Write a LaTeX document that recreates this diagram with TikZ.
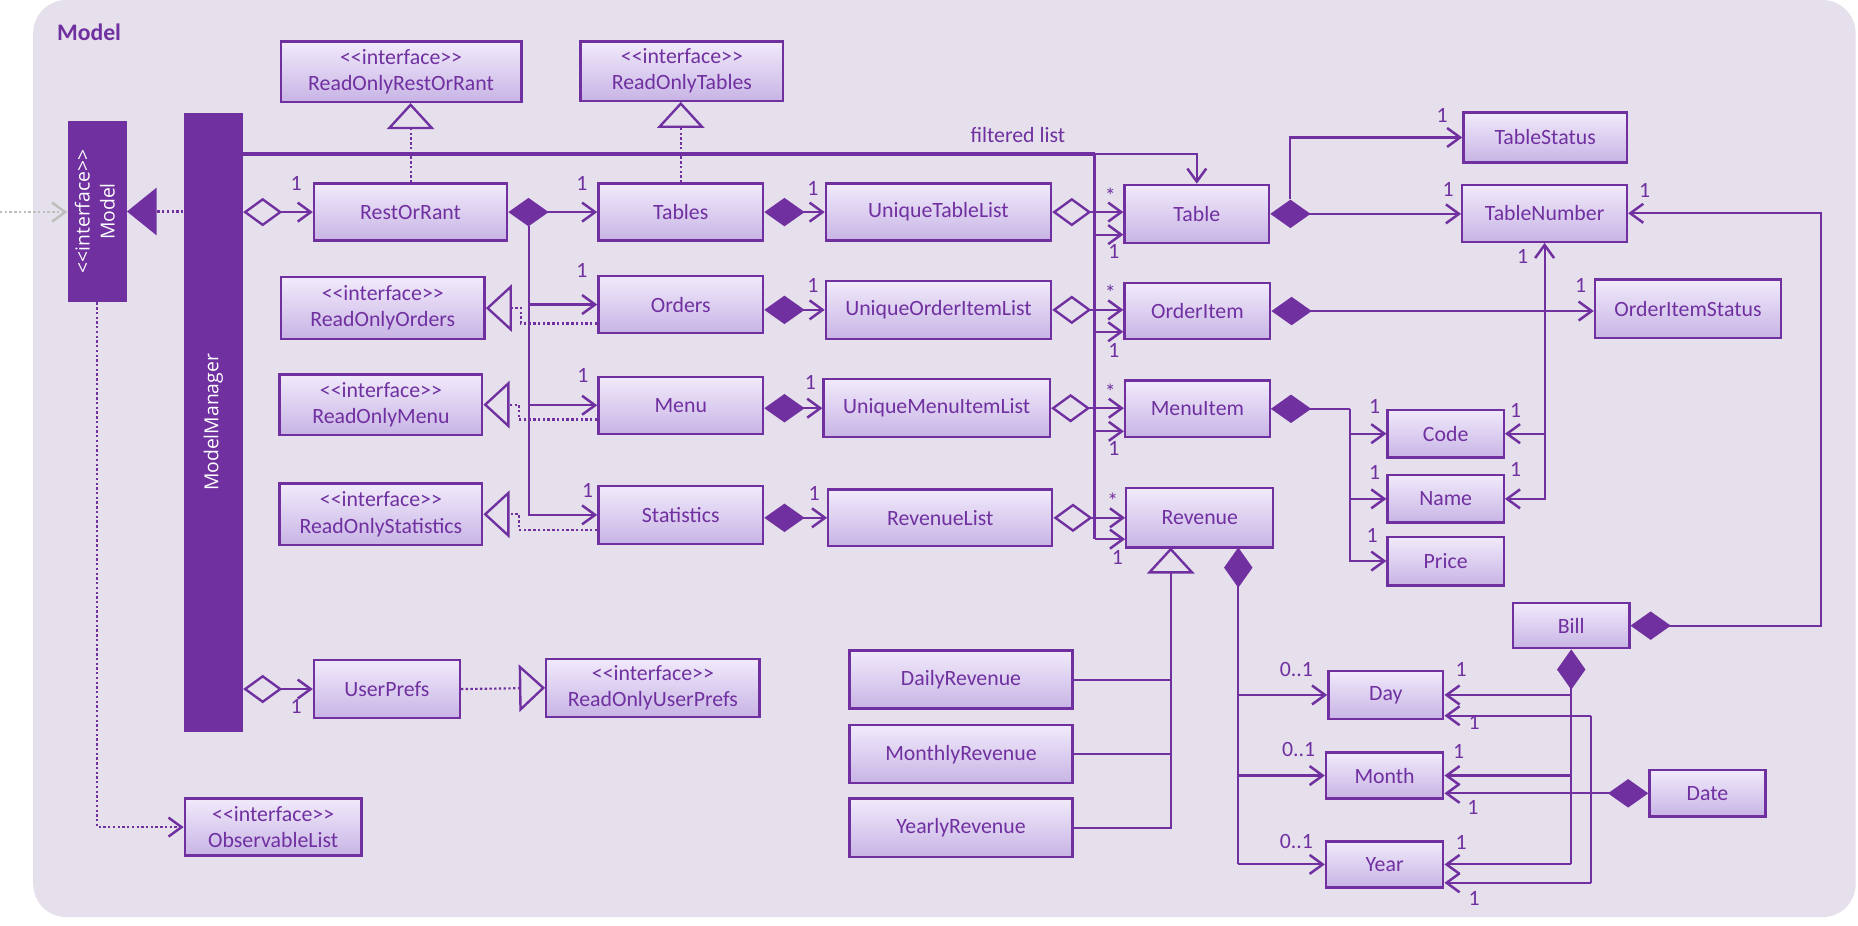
\documentclass[tikz,border=0pt]{standalone}
\usepackage{fontspec}
\usepackage{graphicx}
\setmainfont{Carlito}
\newfontfamily\uifont{Open Sans}
\usetikzlibrary{arrows.meta}
\definecolor{uml_purple}{RGB}{112, 48, 160}
\definecolor{uml_bg}{RGB}{229, 224, 236}
\definecolor{uml_top}{RGB}{241, 234, 251}
\definecolor{uml_bot}{RGB}{200, 180, 229}
\definecolor{uml_grey}{RGB}{191, 191, 191}
\newcommand{\iface}{<\kern0pt<interface>\kern0pt>}
\tikzstyle{cn}=[rectangle,draw=uml_purple,top color=uml_top,bottom color=uml_bot,
  line width=2pt,inner sep=0pt,text=uml_purple,align=center,
  font=\fontsize{18.4}{22}\selectfont]
\tikzstyle{dk}=[rectangle,fill=uml_purple,inner sep=0pt,text=white,
  font=\uifont\fontsize{16.3}{21}\selectfont]
\tikzstyle{lbl}=[inner sep=0pt,anchor=base,text=uml_purple,
  font=\fontsize{18.4}{22}\selectfont]
\tikzstyle{link}=[uml_purple,line width=1.8pt,>={Straight Barb[length=11pt,width=16pt,line width=2.1pt]}]
\tikzstyle{dots}=[link,dash pattern=on 2pt off 2pt]
\tikzset{fdia/.tip={Diamond[length=34pt,width=24pt]},
  odia/.tip={Diamond[length=33pt,width=24pt,fill=uml_bg,line width=2pt]},
  otri/.tip={Triangle[length=22pt,width=40pt,fill=uml_bg,line width=2pt]}}

\begin{document}
\begin{tikzpicture}[x=1pt,y=-1pt]
  \useasboundingbox (0,0) rectangle (1568,781);
  \fill [uml_bg, rounded corners=28pt] (28,0) rectangle (1566,774);
  \node [anchor=base west, inner sep=0pt, text=uml_purple,
    font=\bfseries\fontsize{20}{24}\selectfont] (title) at (48,34) {Model};

  % facade
  \node [style=dk, minimum width=50pt, minimum height=153pt] (model) at (82,178.5)
    {\rotatebox{90}{\begin{tabular}{@{}c@{}}\iface\\Model\end{tabular}}};
  \node [style=dk, minimum width=50pt, minimum height=523pt] (mm) at (180,356.5)
    {\rotatebox{90}{ModelManager}};

  % interfaces
  \node [style=cn, minimum width=203pt, minimum height=51pt] (rorestorrant) at (338.5,60.5) {\iface\\ReadOnlyRestOrRant};
  \node [style=cn, minimum width=171pt, minimum height=50pt] (rotables) at (575.5,60) {\iface\\ReadOnlyTables};
  \node [style=cn, minimum width=172pt, minimum height=52pt] (roorders) at (323,260) {\iface\\ReadOnlyOrders};
  \node [style=cn, minimum width=171pt, minimum height=51pt] (romenu) at (321.5,341.5) {\iface\\ReadOnlyMenu};
  \node [style=cn, minimum width=171pt, minimum height=52pt] (rostatistics) at (321.5,434) {\iface\\ReadOnlyStatistics};
  \node [style=cn, minimum width=180pt, minimum height=49pt] (rouserprefs) at (551,580.5) {\iface\\ReadOnlyUserPrefs};
  \node [style=cn, minimum width=149pt, minimum height=48pt] (obslist) at (230.5,698) {\iface\\ObservableList};

  % classes
  \node [style=cn, minimum width=163pt, minimum height=48pt] (restorrant) at (346.5,179) {RestOrRant};
  \node [style=cn, minimum width=139pt, minimum height=48pt] (tables) at (574.5,179) {Tables};
  \node [style=cn, minimum width=139pt, minimum height=48pt] (orders) at (574.5,257) {Orders};
  \node [style=cn, minimum width=139pt, minimum height=48pt] (menu) at (574.5,342) {Menu};
  \node [style=cn, minimum width=139pt, minimum height=49pt] (statistics) at (574.5,434.5) {Statistics};
  \node [style=cn, minimum width=190pt, minimum height=48pt] (uniquetablelist) at (792,179) {UniqueTableList};
  \node [style=cn, minimum width=190pt, minimum height=49pt] (uniqueorderitemlist) at (792,261.5) {UniqueOrderItemList};
  \node [style=cn, minimum width=191pt, minimum height=49pt] (uniquemenuitemlist) at (790.5,344.5) {UniqueMenuItemList};
  \node [style=cn, minimum width=189pt, minimum height=48pt] (revenuelist) at (793.5,437) {RevenueList};
  \node [style=cn, minimum width=122pt, minimum height=49pt] (table) at (1010,180.5) {Table};
  \node [style=cn, minimum width=123pt, minimum height=47pt] (orderitem) at (1010.5,262.5) {OrderItem};
  \node [style=cn, minimum width=122pt, minimum height=48pt] (menuitem) at (1010.5,345) {MenuItem};
  \node [style=cn, minimum width=124pt, minimum height=50pt] (revenue) at (1012.5,437) {Revenue};
  \node [style=cn, minimum width=138pt, minimum height=42pt] (tablestatus) at (1304,116) {TableStatus};
  \node [style=cn, minimum width=139pt, minimum height=48pt] (tablenumber) at (1303.5,180) {TableNumber};
  \node [style=cn, minimum width=157pt, minimum height=49pt] (orderitemstatus) at (1424.5,260.5) {OrderItemStatus};
  \node [style=cn, minimum width=98pt, minimum height=40pt] (code) at (1220,366) {Code};
  \node [style=cn, minimum width=98pt, minimum height=40pt] (name) at (1220,421) {Name};
  \node [style=cn, minimum width=98pt, minimum height=41pt] (price) at (1220,473.5) {Price};
  \node [style=cn, minimum width=98pt, minimum height=38pt] (bill) at (1326,528) {Bill};
  \node [style=cn, minimum width=97pt, minimum height=41pt] (day) at (1169.5,586.5) {Day};
  \node [style=cn, minimum width=99pt, minimum height=39pt] (month) at (1168.5,654.5) {Month};
  \node [style=cn, minimum width=99pt, minimum height=39pt] (year) at (1168.5,729.5) {Year};
  \node [style=cn, minimum width=98pt, minimum height=39pt] (date) at (1441,669.5) {Date};
  \node [style=cn, minimum width=188pt, minimum height=49pt] (dailyrevenue) at (811,573.5) {DailyRevenue};
  \node [style=cn, minimum width=188pt, minimum height=49pt] (monthlyrevenue) at (811,636.5) {MonthlyRevenue};
  \node [style=cn, minimum width=188pt, minimum height=49pt] (yearlyrevenue) at (811,698.5) {YearlyRevenue};
  \node [style=cn, minimum width=123pt, minimum height=49pt] (userprefs) at (326.5,581.5) {UserPrefs};

  % junction points
  \coordinate (ext) at (0,179);
  \coordinate (rj) at (446.5,191);
  \coordinate (flt) at (924,130);
  \coordinate (ftb) at (924,198);
  \coordinate (foi) at (924,280);
  \coordinate (fmi) at (924,364);
  \coordinate (frv) at (924,455);
  \coordinate (tj) at (1089,168);
  \coordinate (mj) at (1139,345);
  \coordinate (bj) at (1537,528);
  \coordinate (gj) at (988,462);
  \coordinate (rvj) at (1045,462);
  \coordinate (dd) at (1343,604);
  \coordinate (dy) at (1343,745);

  % model and manager
  \draw [dots, draw=uml_grey, ->] (ext) -- (ext -| model.west);
  \draw [dots, -{Triangle[length=25pt,width=40pt]}] (model.east -| mm.west) -- (model.east);
  \draw [dots, ->] (model.south) |- (obslist.west);
  \draw [link, odia->] (mm.east |- restorrant.west) -- (restorrant.west);
  \draw [link, odia->] (mm.east |- userprefs.west) -- (userprefs.west);
  \draw [dots, -otri] (userprefs.east) -- (rouserprefs.west);

  % rest or rant
  \draw [link, fdia->] (restorrant.east) -- (tables.west);
  \draw [link, ->] (rj) |- (orders.west);
  \draw [link, ->] (rj) |- (menu.west);
  \draw [link, ->] (rj) |- (statistics.west);
  \draw [dots, -otri] (restorrant.north) -- (restorrant.north |- rorestorrant.south);
  \draw [dots, -otri] (tables.north) -- (tables.north |- rotables.south);
  \draw [dots, -otri] ([yshift=-16pt]orders.west) -| ([xshift=30pt]roorders.east) -- (roorders.east);
  \draw [dots, -otri] ([yshift=-12pt]menu.west) -| ([xshift=30pt]romenu.east) -- (romenu.east);
  \draw [dots, -otri] ([yshift=-12.5pt]statistics.west) -| ([xshift=30pt]rostatistics.east) -- (rostatistics.east);

  % lists
  \draw [link, fdia->] (tables.east) -- (uniquetablelist.west);
  \draw [link, fdia->] (orders.east |- uniqueorderitemlist.west) -- (uniqueorderitemlist.west);
  \draw [link, fdia->] (menu.east |- uniquemenuitemlist.west) -- (uniquemenuitemlist.west);
  \draw [link, fdia->] (statistics.east |- revenuelist.west) -- (revenuelist.west);
  \draw [link, odia->] (uniquetablelist.east) -- (uniquetablelist.east -| table.west);
  \draw [link, odia->] (uniqueorderitemlist.east) -- (uniqueorderitemlist.east -| orderitem.west);
  \draw [link, odia->] (uniquemenuitemlist.east) -- (uniquemenuitemlist.east -| menuitem.west);
  \draw [link, odia->] (revenuelist.east) -- (revenuelist.east -| revenue.west);

  % filtered list
  \draw [link, line width=3.5pt] (mm.east |- flt) -- (flt);
  \draw [link, ->] (flt) -| (table.north);
  \draw [link, line width=2.5pt] (flt) -- (frv);
  \draw [link, ->] (ftb) -- (ftb -| table.west);
  \draw [link, ->] (foi) -- (foi -| orderitem.west);
  \draw [link, ->] (fmi) -- (fmi -| menuitem.west);
  \draw [link, ->] (frv) -- (frv -| revenue.west);
  \node [lbl] (fltext) at (859,120) {filtered list};

  % items
  \draw [link, fdia->] (table.east) -- (table.east -| tablenumber.west);
  \draw [link, ->] (tj) |- (tablestatus.west);
  \draw [link, fdia->] (orderitem.east) -- (orderitem.east -| orderitemstatus.west);
  \draw [link, fdia-] (menuitem.east) -- (mj);
  \draw [link, ->] (mj) |- (code.west);
  \draw [link, ->] (mj) |- (name.west);
  \draw [link, ->] (mj) |- (price.west);
  \draw [link, <->] (name.east) -| (tablenumber.south);
  \draw [link, ->] (code.east -| tablenumber.south) -- (code.east);
  \draw [link, fdia->] (bill.east) -- (bj) |- (tablenumber.east);

  % revenue
  \draw [link, -otri] (yearlyrevenue.east) -| (gj);
  \draw [link] (dailyrevenue.east) -- (dailyrevenue.east -| gj);
  \draw [link] (monthlyrevenue.east) -- (monthlyrevenue.east -| gj);
  \draw [link, fdia-] (rvj) -- (rvj |- year.west);
  \draw [link, ->] (rvj |- day.west) -- (day.west);
  \draw [link, ->] (rvj |- month.west) -- (month.west);
  \draw [link, ->] (rvj |- year.west) -- (year.west);

  % bill and date
  \draw [link, fdia-] (bill.south) -- (bill.south |- year.east);
  \draw [link, ->] (bill.south |- day.east) -- (day.east);
  \draw [link, ->] (bill.south |- month.east) -- (month.east);
  \draw [link, ->] (bill.south |- year.east) -- (year.east);
  \draw [link, fdia->] (date.west) -- (date.west -| month.east);
  \draw [link] (dd) -- (dy);
  \draw [link, ->] (dd) -- (dd -| day.east);
  \draw [link, ->] (dy) -- (dy -| year.east);

  % multiplicities
  \node [lbl] (m1) at (250,161) {1};
  \node [lbl] (m2) at (491,161) {1};
  \node [lbl] (m3) at (491,234.5) {1};
  \node [lbl] (m4) at (492,322.5) {1};
  \node [lbl] (m5) at (496,419.5) {1};
  \node [lbl] (m6) at (686,165) {1};
  \node [lbl] (m7) at (686,247) {1};
  \node [lbl] (m8) at (684,329) {1};
  \node [lbl] (m9) at (687,422) {1};
  \node [lbl] (s1) at (937,172) {*};
  \node [lbl] (s2) at (937,254) {*};
  \node [lbl] (s3) at (937,337) {*};
  \node [lbl] (s4) at (939,429) {*};
  \node [lbl] (f1) at (940,218) {1};
  \node [lbl] (f2) at (940,302) {1};
  \node [lbl] (f3) at (940,384) {1};
  \node [lbl] (f4) at (943,476) {1};
  \node [lbl] (t1) at (1217,103) {1};
  \node [lbl] (t2) at (1222,166) {1};
  \node [lbl] (t3) at (1388,167) {1};
  \node [lbl] (t4) at (1285,222) {1};
  \node [lbl] (o1) at (1334,247) {1};
  \node [lbl] (c1) at (1160,349) {1};
  \node [lbl] (c2) at (1160,405) {1};
  \node [lbl] (c3) at (1158,458) {1};
  \node [lbl] (c4) at (1279,352) {1};
  \node [lbl] (c5) at (1279,402) {1};
  \node [lbl] (r1) at (1094,571) {0..1};
  \node [lbl] (r2) at (1096,638) {0..1};
  \node [lbl] (r3) at (1094,716) {0..1};
  \node [lbl] (b1) at (1233,571) {1};
  \node [lbl] (b2) at (1231,640) {1};
  \node [lbl] (b3) at (1233,717) {1};
  \node [lbl] (d1) at (1244,616) {1};
  \node [lbl] (d2) at (1243,687) {1};
  \node [lbl] (d3) at (1244,764) {1};
  \node [lbl] (u1) at (250,602) {1};
\end{tikzpicture}
\end{document}
